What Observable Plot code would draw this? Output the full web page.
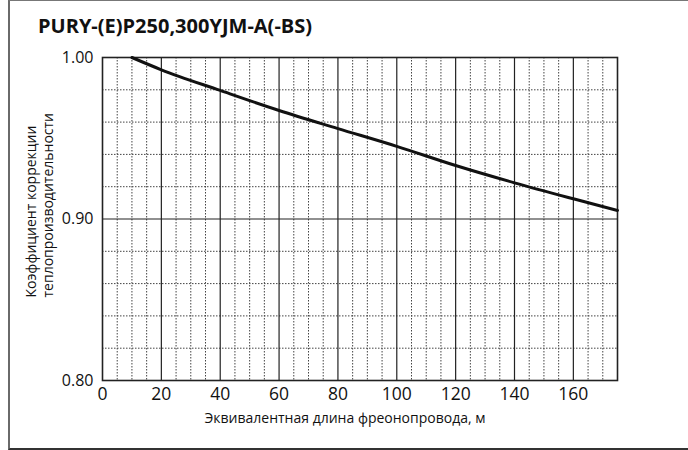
<!DOCTYPE html>
<html><head><meta charset="utf-8">
<script src="https://cdn.jsdelivr.net/npm/d3@7"></script>
<script src="https://cdn.jsdelivr.net/npm/@observablehq/plot@0.6"></script>
<style>
body{margin:0;background:#fff;}
#wrap{position:relative;width:688px;height:450px;overflow:hidden;font-family:"Open Sans",sans-serif;background:#fff;}
#frame{position:absolute;left:8px;top:0;width:700px;height:447px;border-left:2px solid #6a6a6a;border-top:1px solid #777;border-bottom:2px solid #333;box-sizing:content-box;}
#title{position:absolute;left:38px;top:14px;font-weight:700;font-size:20px;line-height:24px;color:#111;white-space:nowrap;}
#chart{position:absolute;left:0;top:0;}
</style>
</head><body>
<div id="wrap"><div id="frame"></div><div id="chart"></div><div id="title"></div></div>
<script>
const titleText = "PURY-(E)P250,300YJM-A(-BS)";
const xLabel = "Эквивалентная длина фреонопровода, м";
const yLabel = "Коэффициент коррекции\nтеплопроизводительности";
const xTicks = [0, 20, 40, 60, 80, 100, 120, 140, 160];
const yTicks = [0.80, 0.90, 1.00];
const majorX = [20, 40, 60, 80, 100, 120, 140, 160];
const minorX = [5,10,15,25,30,35,45,50,55,65,70,75,85,90,95,105,110,115,125,130,135,145,150,155,165,170];
const majorY = [0.90];
const minorY = [0.82, 0.84, 0.86, 0.88, 0.92, 0.94, 0.96, 0.98];
const lengths = [10, 20, 40, 60, 80, 100, 120, 140, 160, 175];
const factors = [1.000, 0.9924, 0.9796, 0.9672, 0.956, 0.945, 0.9331, 0.9224, 0.9125, 0.9053];

document.getElementById("title").textContent = titleText;
const data = lengths.map((x, i) => ({x, y: factors[i]}));
const font = '"Open Sans", sans-serif';
const chart = Plot.plot({
  width: 688, height: 450,
  marginLeft: 102, marginRight: 71, marginTop: 57, marginBottom: 70,
  x: {domain: [0, 175]},
  y: {domain: [0.8, 1.0]},
  style: {fontFamily: font, fontSize: "16px", color: "#111", background: "transparent", overflow: "visible"},
  marks: [
    Plot.ruleX(minorX, {stroke: "#444", strokeDasharray: "1.5,1.5", strokeWidth: 1}),
    Plot.ruleY(minorY, {stroke: "#444", strokeDasharray: "1.5,1.5", strokeWidth: 1}),
    Plot.ruleX(majorX, {stroke: "#222", strokeWidth: 1.2}),
    Plot.ruleY(majorY, {stroke: "#222", strokeWidth: 1.2}),
    Plot.frame({stroke: "#222", strokeWidth: 1.6}),
    Plot.line(data, {x: "x", y: "y", stroke: "#111", strokeWidth: 3, curve: "monotone-x"}),
    Plot.axisX(xTicks, {tickSize: 0, tickPadding: 7, label: null, fontSize: 17.5}),
    Plot.axisY(yTicks, {tickSize: 0, tickPadding: 9, label: null, fontSize: 16, tickFormat: d => d.toFixed(2)}),
    Plot.text([xLabel], {frameAnchor: "bottom", dy: 42, dx: -15, fontSize: 14, fill: "#111"}),
    Plot.text([yLabel], {frameAnchor: "bottom-left", dx: -50, dy: -83, rotate: -90, textAnchor: "start", lineHeight: 1.2, fontSize: 14, fill: "#111"})
  ]
});
document.getElementById("chart").appendChild(chart);
</script>
</body></html>
